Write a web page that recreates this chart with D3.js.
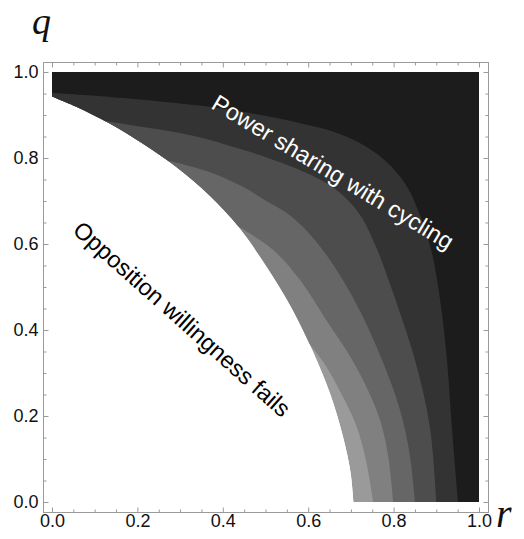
<!DOCTYPE html>
<html><head><meta charset="utf-8">
<script src="https://cdn.jsdelivr.net/npm/d3@7/dist/d3.min.js"></script>
<style>body{margin:0;background:#fff}</style>
</head><body>
<svg id="c" width="524" height="539"></svg>
<script>
// ---- data (r, q) ----
const majorTicks = [0, 0.2, 0.4, 0.6, 0.8, 1.0];
const tickLabels = ["0.0", "0.2", "0.4", "0.6", "0.8", "1.0"];
const bandColors = ["#9a9a9a", "#808080", "#666666", "#4d4d4d", "#333333", "#1c1c1c"];

// boundary between "opposition willingness fails" (white) and the lightest band
const boundaryWillingness = [[0,0.943],[0.057,0.919],[0.135,0.880],[0.213,0.833],[0.291,0.779],[0.369,0.713],[0.437,0.640],[0.501,0.550],[0.562,0.450],[0.611,0.350],[0.652,0.250],[0.682,0.150],[0.699,0.070],[0.706,0]];
const boundary1 = [[0.595,0.377],[0.635,0.326],[0.679,0.249],[0.712,0.179],[0.735,0.098],[0.752,0]];
const boundary2 = [[0.431,0.644],[0.518,0.586],[0.581,0.516],[0.642,0.423],[0.703,0.330],[0.745,0.249],[0.768,0.191],[0.787,0.109],[0.799,0]];
const boundary3 = [[0.276,0.793],[0.370,0.767],[0.447,0.733],[0.499,0.702],[0.557,0.667],[0.616,0.609],[0.674,0.528],[0.726,0.435],[0.773,0.330],[0.815,0.214],[0.838,0.109],[0.850,0]];
const boundary4 = [[0.127,0.886],[0.213,0.872],[0.290,0.860],[0.370,0.842],[0.447,0.819],[0.501,0.802],[0.576,0.774],[0.656,0.733],[0.717,0.674],[0.756,0.600],[0.792,0.505],[0.850,0.330],[0.885,0.174],[0.900,0]];
const boundary5 = [[0,0.951],[0.136,0.942],[0.290,0.928],[0.407,0.914],[0.499,0.898],[0.581,0.881],[0.663,0.860],[0.733,0.828],[0.787,0.788],[0.829,0.737],[0.857,0.679],[0.888,0.586],[0.909,0.470],[0.925,0.330],[0.937,0.167],[0.951,0]];
const boundaries = [boundaryWillingness, boundary1, boundary2, boundary3, boundary4, boundary5];

// ---- drawing ----
const svg = d3.select("#c");
const x = d3.scaleLinear().domain([0, 1]).range([52, 479]);
const y = d3.scaleLinear().domain([0, 1]).range([502, 72]);
const frame = {left: 43, right: 488, top: 62, bottom: 512};
const gray = "#9a9a9a";

const line = d3.line().x(d => x(d[0])).y(d => y(d[1])).curve(d3.curveCatmullRom.alpha(0.5));
function regionPath(pts) {
  const c = line(pts).replace(/^M/, "L");
  return `M${x(0)},${y(1)}L${x(0)},${y(0)}${c}L${x(1)},${y(0)}L${x(1)},${y(1)}Z`;
}

const defs = svg.append("defs");
defs.append("clipPath").attr("id", "plotRect").append("rect")
  .attr("x", x(0)).attr("y", y(1)).attr("width", x(1) - x(0)).attr("height", y(0) - y(1));
defs.append("clipPath").attr("id", "feasible").append("path").attr("d", regionPath(boundaryWillingness));

svg.append("g").attr("clip-path", "url(#plotRect)")
  .append("g").attr("clip-path", "url(#feasible)")
  .selectAll("path").data(boundaries).join("path")
  .attr("d", d => regionPath(d))
  .attr("fill", (d, i) => bandColors[i]);

// frame
svg.append("rect").attr("x", frame.left + 0.5).attr("y", frame.top + 0.5)
  .attr("width", frame.right - frame.left).attr("height", frame.bottom - frame.top)
  .attr("fill", "none").attr("stroke", gray);

const minorTicks = x.ticks(20).filter(t => !majorTicks.some(m => Math.abs(m - t) < 1e-9));
const fmt = d => tickLabels[majorTicks.findIndex(m => Math.abs(m - d) < 1e-9)];
const font = "18px 'Liberation Sans', Arial, sans-serif";

function styleAxis(g) {
  g.select(".domain").remove();
  g.selectAll(".tick line").attr("stroke", gray);
  g.selectAll("text").attr("fill", "#111").style("font", font);
}
const axes = [
  [d3.axisBottom(x), `translate(0,${frame.bottom + 0.5})`, 2],
  [d3.axisTop(x), `translate(0,${frame.top + 0.5})`, null],
  [d3.axisLeft(y), `translate(${frame.left + 0.5},0)`, 5],
  [d3.axisRight(y), `translate(${frame.right + 0.5},0)`, null]
];
axes.forEach(([ax, tr, pad]) => {
  svg.append("g").attr("transform", tr)
    .call(ax.tickValues(majorTicks).tickSize(-5).tickPadding(pad === null ? 0 : pad)
      .tickFormat(pad === null ? () => "" : fmt))
    .call(styleAxis);
  svg.append("g").attr("transform", tr)
    .call(ax.tickValues(minorTicks).tickSize(-3).tickFormat(() => ""))
    .call(styleAxis);
});

// axis titles
svg.append("text").attr("x", 32).attr("y", 34)
  .style("font", "italic 38px 'Liberation Serif', 'Times New Roman', serif").attr("fill", "#111").text("q");
svg.append("text").attr("x", 496).attr("y", 527)
  .style("font", "italic 40px 'Liberation Serif', 'Times New Roman', serif").attr("fill", "#111").text("r");

// region labels
svg.append("text").attr("transform", "translate(333,172) rotate(31)")
  .attr("text-anchor", "middle").attr("dy", "0.35em").attr("fill", "#fff")
  .style("font", "23.5px 'Liberation Sans', Arial, sans-serif").text("Power sharing with cycling");
svg.append("text").attr("transform", "translate(182,319) rotate(41.6)")
  .attr("text-anchor", "middle").attr("dy", "0.35em").attr("fill", "#000")
  .style("font", "23.5px 'Liberation Sans', Arial, sans-serif").text("Opposition willingness fails");
</script>
</body></html>
